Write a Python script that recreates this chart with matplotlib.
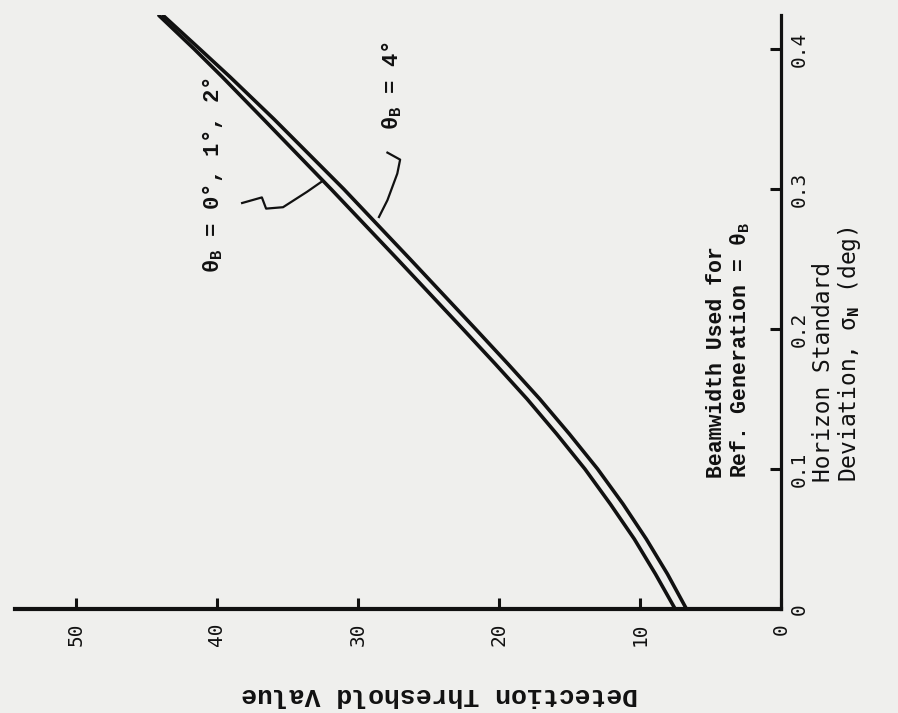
import matplotlib.pyplot as plt

# chart values
sigma = [0.0, 0.025, 0.05, 0.075, 0.10, 0.125, 0.15, 0.175, 0.20, 0.25, 0.30, 0.35, 0.38, 0.40, 0.424]
t_beam_012 = [7.5, 8.9, 10.4, 12.1, 13.9, 15.9, 18.0, 20.25, 22.55, 27.2, 31.9, 36.7, 39.6, 41.6, 44.1]
t_beam_4 = [6.7, 8.05, 9.55, 11.2, 13.0, 15.0, 17.1, 19.35, 21.65, 26.3, 31.0, 35.95, 39.05, 41.2, 43.8]

x_ticks = [50, 40, 30, 20, 10, 0]
y_ticks = [0, 0.1, 0.2, 0.3, 0.4]
y_tick_labels = ['0', '0.1', '0.2', '0.3', '0.4']

# hand drawn pointers (threshold, sigma)
ptr_012_t = [38.2, 36.8, 36.5, 35.3, 33.6, 32.6]
ptr_012_s = [0.290, 0.294, 0.286, 0.287, 0.298, 0.305]
ptr_4_t = [27.9, 27.0, 27.2, 27.9, 28.5]
ptr_4_s = [0.326, 0.321, 0.311, 0.292, 0.280]

ink = '#111111'
paper = '#efefed'
mono = 'DejaVu Sans Mono'
type_font = 'Liberation Mono'

plt.rcParams['mathtext.fontset'] = 'custom'
plt.rcParams['mathtext.rm'] = 'Liberation Mono:bold'
plt.rcParams['mathtext.it'] = 'Liberation Mono:bold'

fig = plt.figure(figsize=(8.98, 7.13), dpi=100, facecolor=paper)
# the page is scanned sideways: threshold runs right-to-left along the bottom,
# sigma runs upward along the right edge
ax = fig.add_axes([15 / 898, (713 - 609) / 713, (781 - 15) / 898, (609 - 15) / 713])
ax.set_facecolor(paper)

ax.plot(t_beam_012, sigma, color=ink, lw=2.6, solid_capstyle='round')
ax.plot(t_beam_4, sigma, color=ink, lw=2.6, solid_capstyle='round')

ax.plot(ptr_012_t, ptr_012_s, color=ink, lw=1.6)
ax.plot(ptr_4_t, ptr_4_s, color=ink, lw=1.6)

ax.set_xlim(54.3, 0)
ax.set_ylim(0, 0.4243)

for side in ['left', 'top']:
    ax.spines[side].set_visible(False)
ax.spines['bottom'].set_linewidth(3.0)
ax.spines['right'].set_linewidth(2.3)
ax.spines['bottom'].set_color(ink)
ax.spines['right'].set_color(ink)

ax.yaxis.tick_right()
ax.set_xticks(x_ticks)
ax.set_xticklabels([str(v) for v in x_ticks], rotation=90, family=mono, fontsize=14, color=ink)
ax.set_yticks(y_ticks)
ax.set_yticklabels(y_tick_labels, rotation=90, va='center', family=mono, fontsize=14, color=ink)
ax.tick_params(axis='x', direction='in', length=8, width=2.2, pad=10, colors=ink)
ax.tick_params(axis='y', direction='in', length=8, width=2.2, pad=6, colors=ink)

ax.text(24.2, -0.0614, 'Detection Threshold Value', rotation=180, ha='center', va='center',
        family=type_font, fontsize=19, fontweight='bold', color=ink, clip_on=False)

ax.text(-3.97, 0.0907, 'Horizon Standard\nDeviation, σ$_\\mathrm{N}$ (deg)', rotation=90,
        ha='center', va='bottom', multialignment='left', family=mono, fontsize=16.5,
        color=ink, clip_on=False, linespacing=1.05)

ax.text(3.69, 0.0936, 'Beamwidth Used for\nRef. Generation = θ$_\\mathrm{B}$', rotation=90,
        ha='center', va='bottom', multialignment='left', family=type_font, fontsize=15.5,
        fontweight='bold', color=ink, linespacing=1.1)

ax.text(40.3, 0.24, 'θ$_\\mathrm{B}$ = 0°, 1°, 2°', rotation=90, ha='center', va='bottom',
        family=type_font, fontsize=16, fontweight='bold', color=ink)
ax.text(27.6, 0.342, 'θ$_\\mathrm{B}$ = 4°', rotation=90, ha='center', va='bottom',
        family=type_font, fontsize=16, fontweight='bold', color=ink)

fig.savefig('out.png', dpi=100, facecolor=paper)
